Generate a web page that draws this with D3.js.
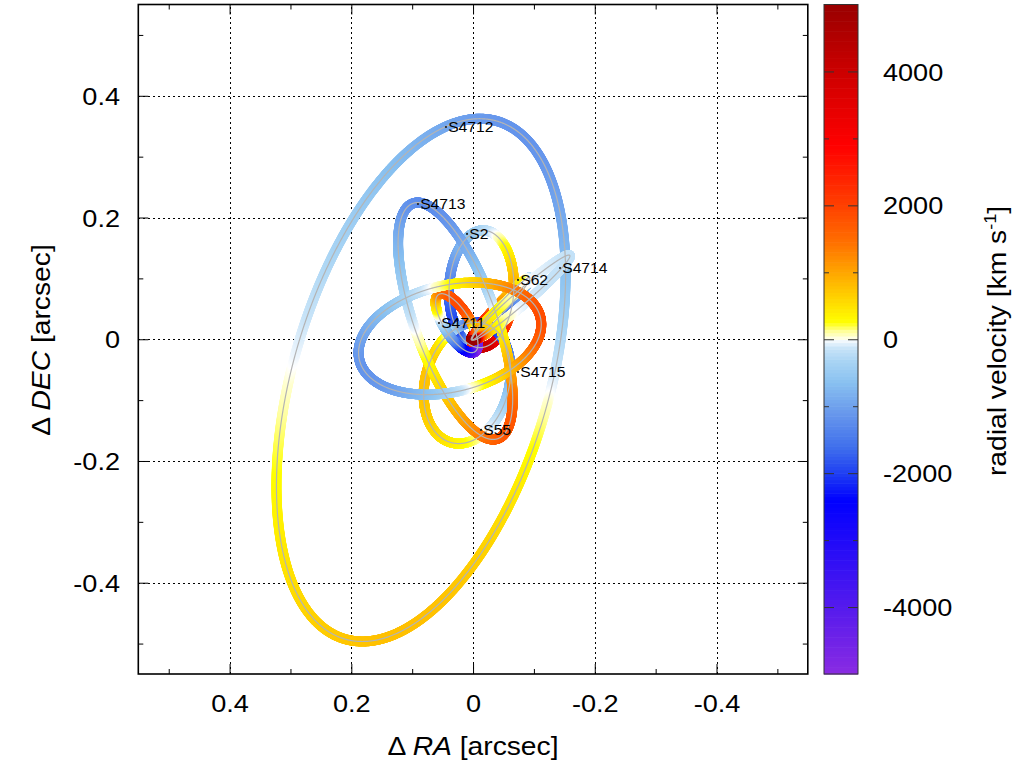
<!DOCTYPE html>
<html><head><meta charset="utf-8">
<script src="https://cdn.jsdelivr.net/npm/d3@7"></script>
<style>
html,body{margin:0;padding:0;background:#fff;}
svg{display:block;font-family:"Liberation Sans",Arimo,Arial,Helvetica,sans-serif;}
</style></head><body>
<svg id="chart" width="1018" height="765"></svg>
<script>
// ---------------- data ----------------
const stars           = ["S2","S55","S62","S4711","S4712","S4713","S4714","S4715"];
const semiMajorArcsec = [0.1255, 0.1078, 0.0905, 0.0667, 0.466, 0.2128, 0.106, 0.1538];
const eccentricity    = [0.884, 0.7209, 0.976, 0.768, 0.36, 0.315, 0.985, 0.265];
const inclinationDeg  = [134.18, 150.1, 72.76, 114.71, 117.4, 108.7, 127.7, 125.9];
const argPeriDeg      = [66.13, 133.5, 42.62, 131.59, 239.1, 304.25, 357.25, 26.3];
const ascNodeDeg      = [228.07, 129.9, 122.61, 20.10, 165.7, 198.85, 129.28, 284.6];
const labelRA         = [0.0099, -0.0131, -0.0739, 0.056, 0.0445, 0.0905, -0.1429, -0.0739];
const labelDEC        = [0.173, -0.149, 0.0974, 0.0267, 0.3487, 0.2222, 0.1171, -0.0538];
const massBH = 4.3e6;      // solar masses
const distancePc = 8000;   // pc

const raTicks       = [0.4, 0.2, 0, -0.2, -0.4];
const raMinorTicks  = [0.5, 0.3, 0.1, -0.1, -0.3, -0.5];
const decTicks      = [0.4, 0.2, 0, -0.2, -0.4];
const decMinorTicks = [0.5, 0.3, 0.1, -0.1, -0.3, -0.5];
const cbTicks       = [4000, 2000, 0, -2000, -4000];
const cbMinorTicks  = [3000, 1000, -1000, -3000];

const paletteValues = [-5000, -2400, -2000, -1600, -1100, -650, -330, -130, -30, 0, 40, 120, 260, 650, 1050, 1450, 2000, 2900, 4000, 5000];
const paletteColors = ["#8a2be2","#0000ff","#1f3ff2","#4070ec","#6898ec","#88c0f0","#a8d4f4","#c8e4f8","#eef6fd","#ffffff","#ffffd0","#ffffa0","#ffff00","#ffd000","#ffa000","#ff7000","#ff4000","#ff0000","#cc0000","#990000"];

// ---------------- setup ----------------
const svg = d3.select("#chart");
const FONT = '"Liberation Sans",Arimo,Arial,Helvetica,sans-serif';
const SX = 1.13;

const x = d3.scaleLinear().domain([0.55, -0.55]).range([138.3, 807.8]);
const y = d3.scaleLinear().domain([-0.55, 0.55]).range([674, 4.5]);
const cbY = d3.scaleLinear().domain([-5000, 5000]).range([674, 4.5]);
const color = d3.scaleLinear().domain(paletteValues).range(paletteColors)
  .interpolate(d3.interpolateRgb).clamp(true);

const x0 = x.range()[0], x1 = x.range()[1], y0 = y.range()[0], y1 = y.range()[1];
const crisp = v => Math.round(v) + 0.5;

// grid
const grid = svg.append("g").attr("stroke", "#000").attr("stroke-width", 1)
  .attr("stroke-dasharray", "2,3").attr("shape-rendering", "crispEdges");
grid.selectAll("line.gx").data(raTicks).join("line").attr("class","gx")
  .attr("x1", d => crisp(x(d))).attr("x2", d => crisp(x(d))).attr("y1", y0).attr("y2", y1);
grid.selectAll("line.gy").data(decTicks).join("line").attr("class","gy")
  .attr("y1", d => crisp(y(d))).attr("y2", d => crisp(y(d))).attr("x1", x0).attr("x2", x1);

// ---------------- orbits ----------------
const GM = 4 * Math.PI * Math.PI * massBH;   // AU^3 / yr^2
const KMS = 4.74047;                           // AU/yr -> km/s
const rad = Math.PI / 180;
const N = 1440;

const orbits = stars.map((name, k) => {
  const a = semiMajorArcsec[k], e = eccentricity[k];
  const inc = inclinationDeg[k] * rad, w = argPeriDeg[k] * rad, O = ascNodeDeg[k] * rad;
  const ci = Math.cos(inc), si = Math.sin(inc);
  const cw = Math.cos(w), sw = Math.sin(w), cO = Math.cos(O), sO = Math.sin(O);
  const PDec = cO * cw - sO * sw * ci, PRA = sO * cw + cO * sw * ci, Pz = sw * si;
  const QDec = -cO * sw - sO * cw * ci, QRA = -sO * sw + cO * cw * ci, Qz = cw * si;
  const vScale = Math.sqrt(GM / (a * distancePc)) * KMS;
  const sq = Math.sqrt(1 - e * e);
  const pts = [];
  for (let j = 0; j <= N; j++) {
    const E = 2 * Math.PI * j / N;
    const X = Math.cos(E) - e, Y = sq * Math.sin(E);
    const ra = a * (X * PRA + Y * QRA);
    const dec = a * (X * PDec + Y * QDec);
    const vz = vScale / (1 - e * Math.cos(E)) * (-Math.sin(E) * Pz + sq * Math.cos(E) * Qz);
    pts.push({ra, dec, vz});
  }
  const segs = [];
  for (let j = 0; j < N; j++) segs.push({p: pts[j], q: pts[j + 1], v: (pts[j].vz + pts[j + 1].vz) / 2});
  return {name, pts, segs};
});

const bands = svg.append("g");
orbits.forEach(o => {
  bands.append("g").selectAll("line").data(o.segs).join("line")
    .attr("x1", d => x(d.p.ra)).attr("y1", d => y(d.p.dec))
    .attr("x2", d => x(d.q.ra)).attr("y2", d => y(d.q.dec))
    .attr("stroke", d => color(d.v))
    .attr("stroke-width", 10).attr("stroke-linecap", "round");
});
const lineGen = d3.line().x(d => x(d.ra)).y(d => y(d.dec));
svg.append("g").selectAll("path").data(orbits).join("path")
  .attr("d", d => lineGen(d.pts)).attr("fill", "none")
  .attr("stroke", "#b4b4b4").attr("stroke-width", 1.2);

// star labels
const lab = svg.append("g");
lab.selectAll("circle").data(stars).join("circle")
  .attr("cx", (d, k) => x(labelRA[k])).attr("cy", (d, k) => y(labelDEC[k]))
  .attr("r", 1.1).attr("fill", "#222");
lab.selectAll("text").data(stars).join("text")
  .attr("transform", (d, k) => `translate(${x(labelRA[k]) + 2.2},${y(labelDEC[k]) + 5.2}) scale(1.08,1)`)
  .attr("font-size", 14.5).attr("font-family", FONT).attr("fill", "#000")
  .text(d => d);

// ---------------- frame & axes ----------------
svg.append("rect").attr("x", x0).attr("y", y1).attr("width", x1 - x0).attr("height", y0 - y1)
  .attr("fill", "none").attr("stroke", "#000").attr("stroke-width", 1.6);

const fmt = d => d === 0 ? "0" : d.toFixed(1);
function styleAxis(g) {
  g.select(".domain").remove();
  g.selectAll(".tick line").attr("stroke", "#000").attr("stroke-width", 1);
  g.attr("font-size", 24).attr("font-family", FONT);
  g.selectAll(".tick text").attr("fill", "#000");
}
svg.append("g").attr("transform", `translate(0,${y0})`)
  .call(d3.axisBottom(x).tickValues(raTicks).tickSize(-10).tickPadding(21).tickFormat(fmt))
  .call(styleAxis)
  .call(g => g.selectAll(".tick text").attr("transform", `scale(${SX},1)`));
svg.append("g").attr("transform", `translate(0,${y0})`)
  .call(d3.axisBottom(x).tickValues(raMinorTicks).tickSize(-5).tickFormat("")).call(styleAxis);
svg.append("g").attr("transform", `translate(0,${y1})`)
  .call(d3.axisTop(x).tickValues(raTicks).tickSize(-10).tickFormat("")).call(styleAxis);
svg.append("g").attr("transform", `translate(0,${y1})`)
  .call(d3.axisTop(x).tickValues(raMinorTicks).tickSize(-5).tickFormat("")).call(styleAxis);

svg.append("g").attr("transform", `translate(${x0},0)`)
  .call(d3.axisLeft(y).tickValues(decTicks).tickSize(-10).tickPadding(16.2).tickFormat(fmt))
  .call(styleAxis)
  .call(g => g.selectAll(".tick text").attr("dy", "0.36em").attr("transform", `scale(${SX},1)`));
svg.append("g").attr("transform", `translate(${x0},0)`)
  .call(d3.axisLeft(y).tickValues(decMinorTicks).tickSize(-5).tickFormat("")).call(styleAxis);
svg.append("g").attr("transform", `translate(${x1},0)`)
  .call(d3.axisRight(y).tickValues(decTicks).tickSize(-10).tickFormat("")).call(styleAxis);
svg.append("g").attr("transform", `translate(${x1},0)`)
  .call(d3.axisRight(y).tickValues(decMinorTicks).tickSize(-5).tickFormat("")).call(styleAxis);

// axis titles
const xt = svg.append("text").attr("transform", `translate(473,755) scale(${SX},1)`)
  .attr("text-anchor", "middle").attr("font-size", 25).attr("font-family", FONT);
xt.append("tspan").text("\u0394 ");
xt.append("tspan").attr("font-style", "italic").text("RA");
xt.append("tspan").text(" [arcsec]");

const yt = svg.append("text").attr("transform", `translate(50,340) rotate(-90) scale(${SX},1)`)
  .attr("text-anchor", "middle").attr("font-size", 25).attr("font-family", FONT);
yt.append("tspan").text("\u0394 ");
yt.append("tspan").attr("font-style", "italic").text("DEC");
yt.append("tspan").text(" [arcsec]");

// ---------------- colorbar ----------------
const cbX0 = 824, cbW = 34;
const steps = d3.range(-5000, 5000, 50);
svg.append("g").selectAll("rect").data(steps).join("rect")
  .attr("x", cbX0).attr("width", cbW)
  .attr("y", d => cbY(d + 50)).attr("height", d => cbY(d) - cbY(d + 50) + 0.6)
  .attr("fill", d => color(d + 25));
svg.append("rect").attr("x", cbX0).attr("y", cbY(5000)).attr("width", cbW)
  .attr("height", cbY(-5000) - cbY(5000)).attr("fill", "none").attr("stroke", "#333").attr("stroke-width", 1);

function styleCb(g) {
  g.select(".domain").remove();
  g.selectAll(".tick line").attr("stroke", "#333").attr("stroke-width", 1);
  g.attr("font-size", 24).attr("font-family", FONT);
  g.selectAll(".tick text").attr("fill", "#000");
}
svg.append("g").attr("transform", `translate(${cbX0 + cbW},0)`)
  .call(d3.axisRight(cbY).tickValues(cbTicks).tickSize(-10).tickPadding(22.1).tickFormat(d => String(d)))
  .call(styleCb)
  .call(g => g.selectAll(".tick text").attr("dy", "0.36em").attr("transform", `scale(${SX},1)`));
svg.append("g").attr("transform", `translate(${cbX0},0)`)
  .call(d3.axisLeft(cbY).tickValues(cbTicks).tickSize(-10).tickFormat("")).call(styleCb);
svg.append("g").attr("transform", `translate(${cbX0 + cbW},0)`)
  .call(d3.axisRight(cbY).tickValues(cbMinorTicks).tickSize(-5).tickFormat("")).call(styleCb);
svg.append("g").attr("transform", `translate(${cbX0},0)`)
  .call(d3.axisLeft(cbY).tickValues(cbMinorTicks).tickSize(-5).tickFormat("")).call(styleCb);

const ct = svg.append("text").attr("transform", `translate(1006,341) rotate(-90) scale(${SX},1)`)
  .attr("text-anchor", "middle").attr("font-size", 25).attr("font-family", FONT);
ct.append("tspan").text("radial velocity [km s");
ct.append("tspan").attr("font-size", 16).attr("dy", -10).text("-1");
ct.append("tspan").attr("dy", 10).text("]");
</script>
</body></html>
